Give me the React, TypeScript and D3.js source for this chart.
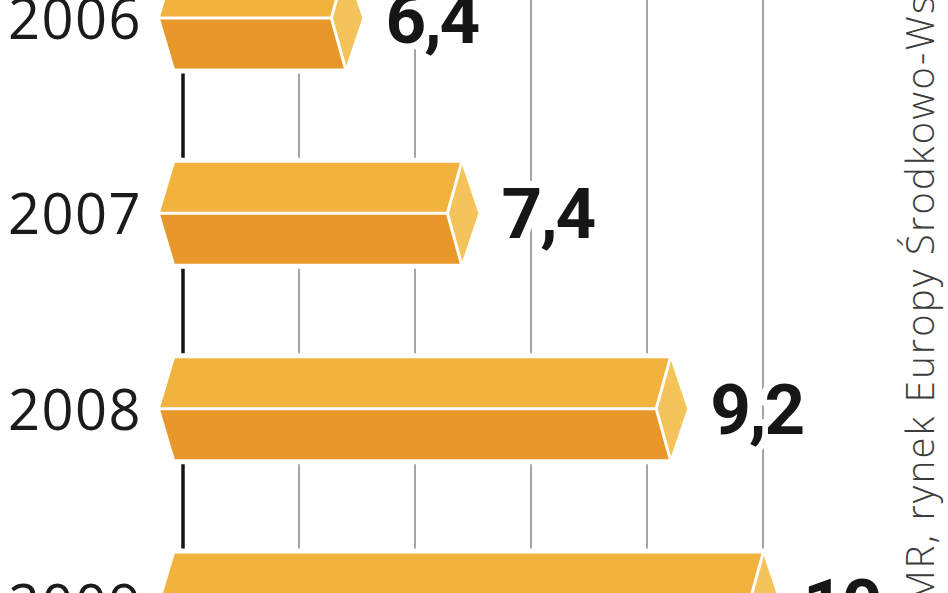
import * as d3 from "d3";
import { useEffect, useRef } from "react";

const W = 948;
const H = 593;

const YEARS = ["2006", "2007", "2008", "2009"];
const VALUES = [6.4, 7.4, 9.2, 10];
const TICKS = [5, 6, 7, 8, 9, 10];
const BAR_BASE = 4.8;
const SOURCE = "PMR, rynek Europy Środkowo-Wschodniej";

const TOP_FACE = "#f2b33e";
const BOTTOM_FACE = "#e8982a";
const CAP = "#f4c45a";

const fmt = (v: number) => String(v).replace(".", ",");

export default function App() {
  const svgRef = useRef<SVGSVGElement>(null);

  useEffect(() => {
    const svg = d3.select(svgRef.current);
    svg.selectAll("*").remove();

    const x = d3.scaleLinear().domain([5, 10]).range([183, 763]);
    const y = d3.scalePoint<string>().domain(YEARS).range([18, 604]);
    const half = 50.5;
    const chevron = 15;
    const capIn = 14;
    const capOut = 17;

    svg.append("rect").attr("width", W).attr("height", H).attr("fill", "#fff");

    // gridlines
    svg
      .append("g")
      .selectAll("line")
      .data(TICKS)
      .join("line")
      .attr("x1", (d) => x(d))
      .attr("x2", (d) => x(d))
      .attr("y1", -10)
      .attr("y2", H + 10)
      .attr("stroke", (d) => (d === 5 ? "#151515" : "#9c9c9c"))
      .attr("stroke-width", (d) => (d === 5 ? 3.5 : 1.8));

    const rows = YEARS.map((year, i) => ({ year, value: VALUES[i] }));
    const line = d3.line().curve(d3.curveLinearClosed);

    const g = svg.append("g");
    rows.forEach((r) => {
      const cy = y(r.year)!;
      const l = x(BAR_BASE);
      const v = x(r.value);
      const t = cy - half;
      const b = cy + half;

      const outline = [
        [l, cy],
        [l + chevron, t],
        [v, t],
        [v + capOut, cy],
        [v, b],
        [l + chevron, b],
      ] as [number, number][];
      const top = [
        [l, cy],
        [l + chevron, t],
        [v, t],
        [v - capIn, cy],
      ] as [number, number][];
      const bottom = [
        [l, cy],
        [v - capIn, cy],
        [v, b],
        [l + chevron, b],
      ] as [number, number][];
      const cap = [
        [v, t],
        [v + capOut, cy],
        [v, b],
        [v - capIn, cy],
      ] as [number, number][];

      g.append("path")
        .attr("d", line(outline))
        .attr("fill", "#fff")
        .attr("stroke", "#fff")
        .attr("stroke-width", 10)
        .attr("stroke-linejoin", "round");

      g.append("path").attr("d", line(top)).attr("fill", TOP_FACE);
      g.append("path").attr("d", line(bottom)).attr("fill", BOTTOM_FACE);
      g.append("path").attr("d", line(cap)).attr("fill", CAP);

      // white separators
      g.append("path")
        .attr("d", `M${l},${cy}L${v - capIn},${cy}L${v},${t}M${v - capIn},${cy}L${v},${b}`)
        .attr("fill", "none")
        .attr("stroke", "#fff")
        .attr("stroke-width", 3);

      g.append("text")
        .attr("x", 142)
        .attr("y", cy + 21)
        .attr("text-anchor", "end")
        .attr("font-family", "'Open Sans', sans-serif")
        .attr("font-size", 56)
        .attr("letter-spacing", 1.5)
        .attr("fill", "#1b1b1b")
        .text(r.year);

      g.append("text")
        .attr("x", v + 40)
        .attr("y", cy + 25)
        .attr("font-family", "Roboto, sans-serif")
        .attr("font-weight", 700)
        .attr("font-size", 71)
        .attr("letter-spacing", -2)
        .attr("fill", "#161616")
        .attr("stroke", "#fff")
        .attr("stroke-width", 14)
        .attr("stroke-linejoin", "round")
        .attr("paint-order", "stroke")
        .text(fmt(r.value));
    });

    // source, rotated
    svg
      .append("text")
      .attr("transform", `translate(934,628) rotate(-90)`)
      .attr("font-family", "'Open Sans', sans-serif")
      .attr("font-weight", 300)
      .attr("font-size", 38)
      .attr("letter-spacing", 2.4)
      .attr("fill", "#3c3c3c")
      .text(SOURCE);
  }, []);

  return (
    <svg
      ref={svgRef}
      width={W}
      height={H}
      style={{ position: "absolute", left: 0, top: 0, display: "block" }}
    />
  );
}
